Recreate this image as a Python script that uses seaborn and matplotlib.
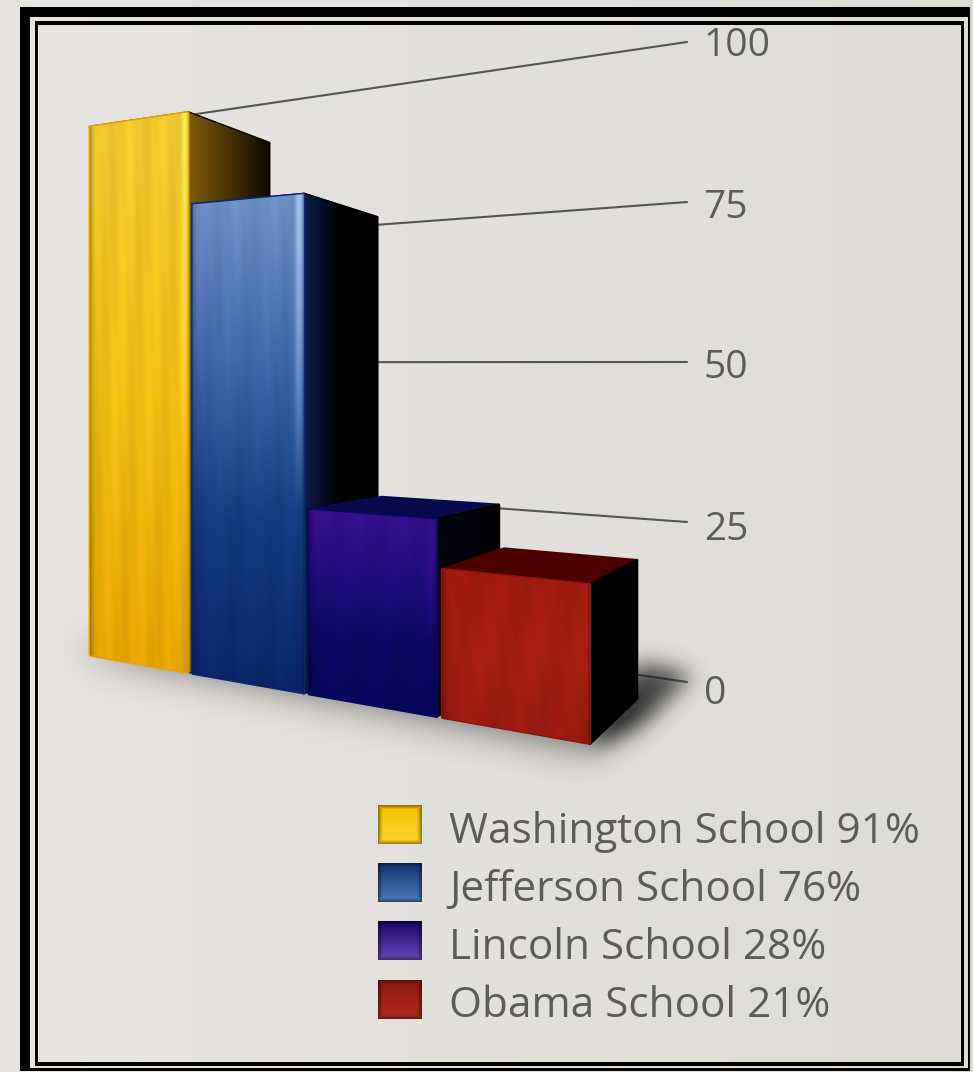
"""
School scores as a hand-projected 3D bar chart, saved to out.png.
"""

import numpy as np
import matplotlib
matplotlib.use("Agg")
import matplotlib.pyplot as plt
from matplotlib.colors import to_rgb
from matplotlib.patches import Patch, Polygon, Rectangle
from matplotlib.path import Path
from matplotlib.transforms import Affine2D, IdentityTransform, ScaledTranslation, Transform
import seaborn as sns

SCHOOLS = ["Washington School", "Jefferson School", "Lincoln School", "Obama School"]
SCORES = [91, 76, 28, 21]
TICKS = [0, 25, 50, 75, 100]

BAR_COLORS = ["#e5a400", "#0a2a70", "#08085c", "#8a160c"]
# front face colour stops from top to bottom, then highlight near the right edge
FRONT = [(("#f0c92e", "#f0be14", "#e5a400"), "#fff25a"),
         (("#6f90c4", "#3f68aa", "#123a80", "#0a2468"), "#a8c8f4"),
         (("#37108c", "#1e0c7c", "#0a0860", "#06065a"), "#37108c"),
         (("#a01a0e", "#a41e12", "#981a10"), "#a41e12")]
SIDE = [("#7d5c08", "#4a3404", "#0c0800"), ("#0a1c48", "#000000", "#000000"),
        ("#040414", "#000000"), ("#000000", "#000000")]
TOP = ["#6a5008", "#0a1c48", "#08084c", "#4c0000"]
SWATCH = [("#f5c000", "#ffd52a"), ("#12346e", "#4d7ab8"),
          ("#16086a", "#6a45b4"), ("#8e1a10", "#b02a1e")]

W, H = 973, 1072
VANISH = np.array([950.0, 400.0])    # depth lines of the bars meet here
GRID_VANISH = np.array([-1500.0, 363.0])

sns.set_theme(style="white")
plt.rcParams["font.family"] = ["Open Sans", "DejaVu Sans"]
TEXT_COLOR = "#5c5c5c"
LEGEND_SIZE = 30.4

PX = Affine2D().scale(1, -1).translate(0, H)   # image pixels to display


def front_px(cat, value):
    """Category position and value to pixels on the front plane of the row."""
    u = np.asarray(cat, float) + 0.5
    x = 88 + 96.2 * u / (1 - 0.0596 * u)
    base = 655 + (x - 88) * 0.1765
    scale = 5.8 + (x - 88) * 0.00355
    return np.column_stack([x, base - scale * np.asarray(value, float)])


def back_px(pts):
    t = (0.095 + 0.00006 * pts[:, 0])[:, None]
    return pts + t * (VANISH - pts)


class FrontTransform(Transform):
    input_dims = output_dims = 2

    def transform_non_affine(self, values):
        values = np.asarray(values)
        return PX.transform(front_px(values[:, 0], values[:, 1]))


def gradient(stops, horizontal=False, n=128):
    rgb = np.array([to_rgb(c) for c in stops])
    at = np.linspace(0, 1, len(stops))
    f = np.column_stack([np.interp(np.linspace(0, 1, n), at, rgb[:, k]) for k in range(3)])
    return f[None, :, :] if horizontal else f[:, None, :]


def put_image(ax, arr, pts, clip, zorder):
    x0, x1 = pts[:, 0].min(), pts[:, 0].max()
    y0, y1 = pts[:, 1].min(), pts[:, 1].max()
    im = ax.imshow(arr, extent=(x0, x1, H - y1, H - y0), origin="upper",
                   transform=IdentityTransform(), aspect="auto", zorder=zorder)
    im.set_clip_box(fig.bbox)
    im.set_clip_path(clip.get_path(), clip.get_transform())
    return im


def front_texture(stops, light):
    arr = np.repeat(gradient(stops, n=200), 100, axis=1)
    cols = np.linspace(0, 1, 100)[None, :]
    rows = np.linspace(0, 1, 200)[:, None]
    glow = np.exp(-((cols - 0.96) / 0.035) ** 2) * np.clip(1 - rows * 1.6, 0, 1)
    arr = arr + glow[..., None] * (np.array(to_rgb(light)) - arr)
    shade = 1 - 0.28 * np.exp(-cols / 0.025) - 0.2 * np.exp(-(1 - cols) / 0.012)
    # brushed look
    streak = 1 + 0.03 * np.sin(cols * 19 + rows * 5) + 0.015 * np.sin(cols * 53 - rows * 9)
    return np.clip(arr * (shade * streak)[..., None], 0, 1)


def soft_mask(corners, sigma):
    """Blurred polygon mask on a half resolution pixel grid."""
    ys, xs = np.mgrid[1:H:2, 1:W:2]
    inside = Path(corners).contains_points(np.column_stack([xs.ravel(), ys.ravel()]))
    mask = inside.reshape(xs.shape).astype(float)
    kernel = np.exp(-0.5 * (np.arange(-30, 31) / (sigma / 2)) ** 2)
    kernel /= kernel.sum()
    mask = np.apply_along_axis(np.convolve, 0, mask, kernel, mode="same")
    return np.apply_along_axis(np.convolve, 1, mask, kernel, mode="same")


fig = plt.figure(figsize=(W / 100, H / 100), dpi=100)

# slide background and its double frame
bg = fig.add_axes([0, 0, 1, 1], zorder=0)
bg.imshow(np.linspace([0.905, 0.895, 0.885], [0.87, 0.862, 0.845], 256)[None, :, :],
          extent=(0, W, H, 0), aspect="auto")
bg.set_xlim(0, W)
bg.set_ylim(H, 0)
bg.axis("off")
for left, top, right, bottom, band in [(20, 7, 970, 1071, (10, 10, 2, 3)),
                                       (35, 21, 964, 1066, (3, 4, 3, 4))]:
    bl, bt, br, bb = band
    bg.add_patch(Rectangle((left, top), bl, bottom - top, fc="black", ec="none"))
    bg.add_patch(Rectangle((left, top), right - left, bt, fc="black", ec="none"))
    bg.add_patch(Rectangle((right - br, top), br, bottom - top, fc="black", ec="none"))
    bg.add_patch(Rectangle((left, bottom - bb), right - left, bb, fc="black", ec="none"))

# value axis: its right edge is where the guide lines end
ax = fig.add_axes([88 / W, (H - 682) / H, (687 - 88) / W, 640 / H], zorder=1)
ax.patch.set_visible(False)
sns.barplot(x=SCHOOLS, y=SCORES, hue=SCHOOLS, palette=BAR_COLORS, saturation=1,
            width=0.96, legend=False, ax=ax)
ax.set_xlim(-0.5, 3.5)
ax.set_ylim(0, 100)
ax.autoscale(False)
ax.set_yticks(TICKS)
ax.set_xticks([])
ax.yaxis.tick_right()
ax.tick_params(axis="y", length=0, pad=12, labelsize=28, labelcolor=TEXT_COLOR)
sns.despine(ax=ax, left=True, right=True, top=True, bottom=True)

# lower tick labels sit a little under their guide lines
for tick, label in zip(TICKS, ax.get_yticklabels()):
    drop = 7 if tick == 0 else 3 * (100 - tick) / 75
    shift = ScaledTranslation(0, -drop / 100, fig.dpi_scale_trans)
    label.set_transform(label.get_transform() + shift)

# guide lines from the ticks back to the row of bars
for tick in TICKS:
    end = ax.transData.transform((3.5, tick))
    end_px = np.array([687.0, H - end[1]])
    start = end_px + (687 - 190) / (687 - GRID_VANISH[0]) * (GRID_VANISH - end_px)
    ax.plot([start[0], end_px[0]], [start[1], end_px[1]], color="#555555", lw=1.5,
            transform=PX, clip_on=False, zorder=1)

# floor shadow
base_l = front_px([-0.5], [0])[0]
base_r = front_px([3.5], [0])[0]
base_b = back_px(front_px([3.5], [0]))[0]
alpha = (0.55 * soft_mask([base_l + [-10, -4], base_r + [0, 8], base_b, back_px(base_l[None])[0]], 18)
         + 0.8 * soft_mask([(638, 662), (692, 674), (645, 722), (605, 742), (590, 744)], 11))
shadow = np.zeros(alpha.shape + (4,))
shadow[..., :3] = 0.12
shadow[..., 3] = np.clip(alpha, 0, 0.85)
shadow_im = ax.imshow(shadow, extent=(0, W, 0, H), origin="upper", transform=IdentityTransform(),
                      aspect="auto", zorder=2)
shadow_im.set_clip_box(fig.bbox)
shadow_im.set_clip_path(None)

for i, (bar, score) in enumerate(zip(ax.patches, SCORES)):
    z = 10 * (i + 1)
    x0, x1 = bar.get_x(), bar.get_x() + bar.get_width()
    fl_b, fr_b = front_px([x0, x1], [0, 0])
    fl_t, fr_t = front_px([x0, x1], [score, score])
    bl_t, br_t, br_b = back_px(np.array([fl_t, fr_t, fr_b]))

    top = Polygon([fl_t, bl_t, br_t, fr_t], closed=True, fc=TOP[i], ec=TOP[i], lw=2,
                  joinstyle="round", transform=PX, clip_on=False, zorder=z)
    ax.add_patch(top)

    side_pts = np.array([fr_t, br_t, br_b, fr_b])
    side = Polygon(side_pts, closed=True, fc=SIDE[i][-1], ec=SIDE[i][-1], lw=2,
                   joinstyle="round", transform=PX, clip_on=False, zorder=z + 1)
    ax.add_patch(side)
    put_image(ax, gradient(SIDE[i], horizontal=True), side_pts, side, z + 2)

    bar.set_transform(FrontTransform())
    bar.set_clip_on(False)
    bar.set_zorder(z + 3)
    bar.set_edgecolor(BAR_COLORS[i])
    bar.set_linewidth(2)
    bar.set_joinstyle("round")
    put_image(ax, front_texture(*FRONT[i]), np.array([fl_b, fr_b, fl_t, fr_t]), bar, z + 4)

# legend with the labels in the chart's own text colour
handles = [Patch(facecolor=c) for c in BAR_COLORS]
labels = [f"{s} {v}%" for s, v in zip(SCHOOLS, SCORES)]
font_px = LEGEND_SIZE * 100 / 72
SWATCH_RISE = 4    # the text sits this far under the centre of its swatch row
leg = ax.legend(handles, labels, loc="upper left", bbox_to_anchor=(378, H - 805 - SWATCH_RISE),
                bbox_transform=IdentityTransform(), frameon=False, fontsize=LEGEND_SIZE,
                labelcolor=TEXT_COLOR, borderpad=0, borderaxespad=0,
                handlelength=44 / font_px, handleheight=44 / font_px,
                handletextpad=27 / font_px, labelspacing=14.3 / font_px)
leg.set_zorder(100)

# shaded swatches replace the plain legend handles
fig.canvas.draw()
for handle, stops in zip(leg.legend_handles, SWATCH):
    box = handle.get_window_extent()
    handle.set_visible(False)
    w, h = int(round(box.width)), int(round(box.height))
    arr = np.repeat(gradient(stops, n=h), w, axis=1)
    rows, cols = np.linspace(-1, 1, h)[:, None], np.linspace(-1, 1, w)[None, :]
    edge = np.clip(np.maximum(np.abs(rows), np.abs(cols)) - 0.8, 0, 1) * 2
    arr = arr * (1 - edge[..., None])
    fig.figimage(np.clip(arr, 0, 1), xo=int(round(box.x0)), yo=int(round(box.y0)) + SWATCH_RISE,
                 origin="upper", zorder=5)

fig.savefig("out.png", dpi=100)
plt.close(fig)
